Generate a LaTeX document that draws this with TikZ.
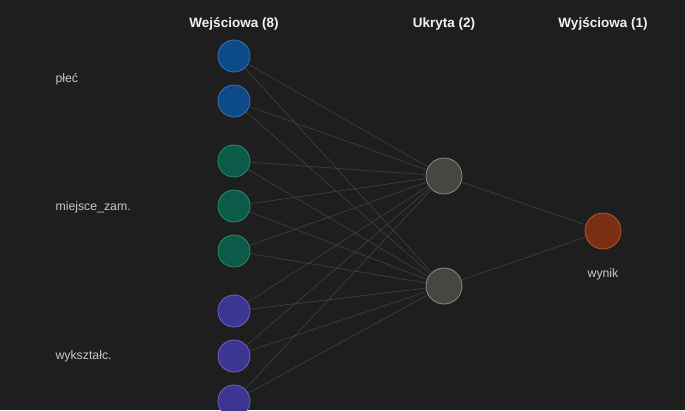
\documentclass[tikz,border=0pt]{standalone}
\usepackage{fontspec}
\setmainfont{Liberation Sans}
\begin{document}
\begin{tikzpicture}[x=1pt,y=-1pt,
  inb/.style={circle,draw=blueS,fill=blueF,line width=0.8pt,minimum size=32pt,inner sep=0pt},
  int/.style={circle,draw=tealS,fill=tealF,line width=0.8pt,minimum size=32pt,inner sep=0pt},
  inp/.style={circle,draw=purpS,fill=purpF,line width=0.8pt,minimum size=32pt,inner sep=0pt},
  hid/.style={circle,draw=hidS,fill=hidF,line width=0.8pt,minimum size=36pt,inner sep=0pt},
  outn/.style={circle,draw=outS,fill=outF,line width=0.8pt,minimum size=36pt,inner sep=0pt},
  ttl/.style={text=titleC,font=\bfseries\fontsize{13.5}{16}\selectfont},
  lbl/.style={text=lblC,font=\fontsize{12.3}{14}\selectfont},
  edge/.style={draw=edgeC,line width=0.6pt}]
\definecolor{bg}{HTML}{1E1E1E}
\definecolor{blueF}{HTML}{0C4A88}
\definecolor{blueS}{HTML}{3C72B4}
\definecolor{tealF}{HTML}{0C5A48}
\definecolor{tealS}{HTML}{2E8A70}
\definecolor{purpF}{HTML}{3D3592}
\definecolor{purpS}{HTML}{6C62C4}
\definecolor{hidF}{HTML}{464642}
\definecolor{hidS}{HTML}{8A8A84}
\definecolor{outF}{HTML}{7A2E12}
\definecolor{outS}{HTML}{B45434}
\definecolor{titleC}{HTML}{F2F2F0}
\definecolor{lblC}{HTML}{C8C8C2}
\definecolor{edgeC}{HTML}{424240}
\fill[bg] (0,0) rectangle (685,410);
\useasboundingbox (0,0) rectangle (685,410);
\node[ttl] (t1) at (234,24) {Wejściowa (8)};
\node[ttl] (t2) at (444,24) {Ukryta (2)};
\node[ttl] (t3) at (603,24) {Wyjściowa (1)};
\foreach \i/\h in {1/56,2/101,3/161,4/206,5/251,6/311,7/356,8/401}{
  \coordinate (c\i) at (234,\h);
}
\node[inb] (i1) at (c1) {};
\node[inb] (i2) at (c2) {};
\node[int] (i3) at (c3) {};
\node[int] (i4) at (c4) {};
\node[int] (i5) at (c5) {};
\node[inp] (i6) at (c6) {};
\node[inp] (i7) at (c7) {};
\node[inp] (i8) at (c8) {};
\node[hid] (h1) at (444,176) {};
\node[hid] (h2) at (444,286) {};
\node[outn] (o1) at (603,231) {};
\node[lbl,anchor=west] (l1) at (52,79) {płeć};
\node[lbl,anchor=west] (l2) at (52,207) {miejsce\_zam.};
\node[lbl,anchor=west] (l3) at (52,356) {wykształc.};
\node[lbl] (l4) at (603,274) {wynik};
\foreach \i in {1,...,8}{
  \foreach \h in {h1,h2}{
    \path[edge] (i\i) -- (\h);
  }
}
\path[edge] (h1) -- (o1);
\path[edge] (h2) -- (o1);
\end{tikzpicture}
\end{document}
